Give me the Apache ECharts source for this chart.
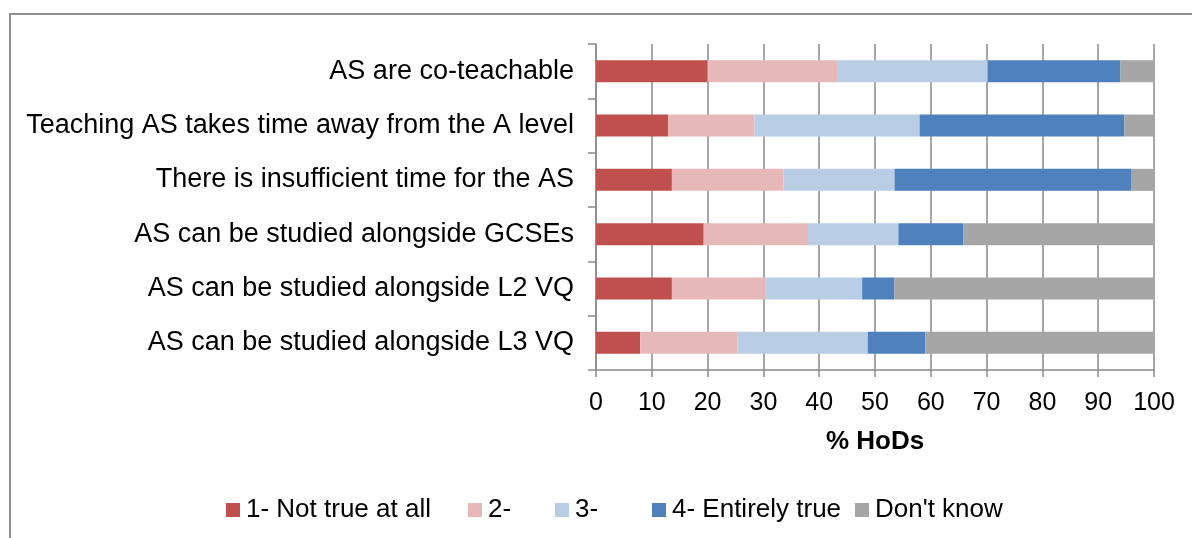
<!DOCTYPE html>
<html>
<head>
<meta charset="utf-8">
<script src="https://cdn.jsdelivr.net/npm/echarts@6/dist/echarts.min.js"></script>
<style>
  html, body { margin: 0; padding: 0; background: #fff; }
  #chart { width: 1192px; height: 538px; }
</style>
</head>
<body>
<div id="chart"></div>
<script>
// Statements, listed top to bottom
const statements = [
  'AS are co-teachable',
  'Teaching AS takes time away from the A level',
  'There is insufficient time for the AS',
  'AS can be studied alongside GCSEs',
  'AS can be studied alongside L2 VQ',
  'AS can be studied alongside L3 VQ'
];

// Share of HoDs (%) giving each response, per statement
const notTrueAtAll = [20.0, 12.9, 13.6, 19.3, 13.6, 7.9];
const two          = [23.2, 15.5, 20.0, 18.7, 16.7, 17.5];
const three        = [27.0, 29.6, 19.9, 16.2, 17.4, 23.3];
const entirelyTrue = [23.8, 36.7, 42.5, 11.6,  5.8, 10.3];
const dontKnow     = [ 6.0,  5.3,  4.0, 34.2, 46.5, 41.0];

const seriesNames = ['1- Not true at all', '2-', '3-', '4- Entirely true', "Don't know"];
const seriesData = [notTrueAtAll, two, three, entirelyTrue, dontKnow];
const seriesColors = ['#C0504D', '#E6B9B8', '#B9CDE5', '#4F81BD', '#A6A6A6'];

const xTicks = { min: 0, max: 100, interval: 10 };

const FONT = '"Liberation Sans", Arial, sans-serif';
const GRID_GRAY = '#8a8a8a';

const chart = echarts.init(document.getElementById('chart'), null, { renderer: 'canvas' });

// one legend entry per response, laid out along the bottom
const legendLefts = [221, 463, 550, 647, 850];
const legends = seriesNames.map((name, i) => ({
  data: [name],
  left: legendLefts[i],
  top: 492,
  itemWidth: 14,
  itemHeight: 14,
  itemGap: 0,
  icon: 'rect',
  selectedMode: false,
  textStyle: { fontFamily: FONT, fontSize: 26, color: '#000', padding: [0, 0, 0, 1] }
}));

chart.setOption({
  animation: false,
  backgroundColor: '#fff',
  textStyle: { fontFamily: FONT },
  graphic: [{
    type: 'rect',
    shape: { x: 10, y: 14, width: 1200, height: 600 },
    style: { fill: 'none', stroke: '#8e8e8e', lineWidth: 2 },
    silent: true
  }],
  legend: legends,
  grid: { left: 596, right: 38, top: 44, height: 326, containLabel: false },
  xAxis: {
    type: 'value',
    min: xTicks.min,
    max: xTicks.max,
    interval: xTicks.interval,
    name: '% HoDs',
    nameLocation: 'middle',
    nameGap: 59,
    nameTextStyle: { fontFamily: FONT, fontSize: 26, fontWeight: 'bold', color: '#000' },
    axisLine: { show: true, lineStyle: { color: GRID_GRAY, width: 1.5 } },
    axisTick: { show: true, length: 7, lineStyle: { color: GRID_GRAY, width: 1.5 } },
    axisLabel: { fontFamily: FONT, fontSize: 25, color: '#000', margin: 21 },
    splitLine: { show: true, lineStyle: { color: GRID_GRAY, width: 1.5 } }
  },
  yAxis: {
    type: 'category',
    inverse: true,
    data: statements,
    axisLine: { show: true, lineStyle: { color: GRID_GRAY, width: 1.5 } },
    axisTick: { show: true, length: 8, lineStyle: { color: GRID_GRAY, width: 1.5 } },
    axisLabel: { fontFamily: FONT, fontSize: 27, color: '#000', margin: 22 },
    splitLine: { show: false }
  },
  series: seriesNames.map((name, i) => ({
    name: name,
    type: 'bar',
    stack: 'total',
    barWidth: 22,
    data: seriesData[i],
    itemStyle: { color: seriesColors[i] },
    emphasis: { disabled: true }
  }))
});
</script>
</body>
</html>
